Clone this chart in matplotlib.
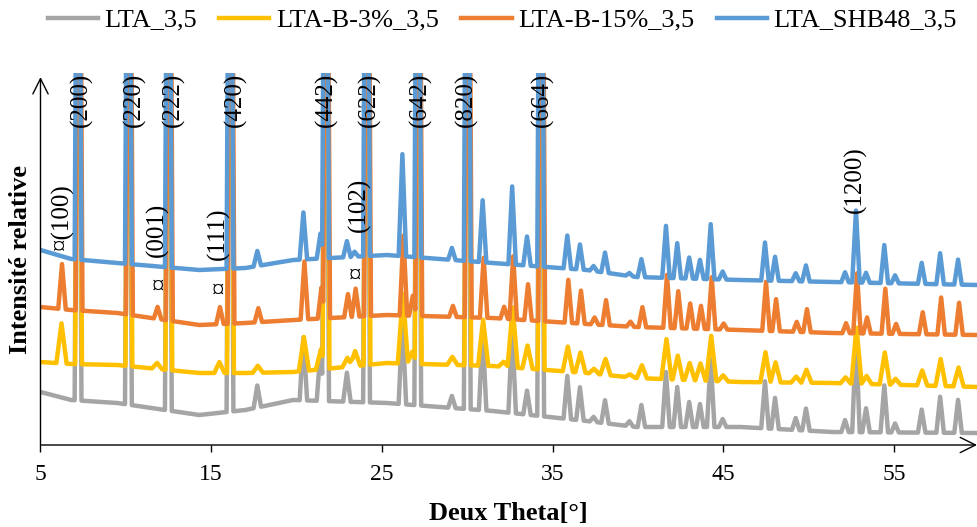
import numpy as np
import matplotlib
matplotlib.use("Agg")
import matplotlib.pyplot as plt

plt.rcParams['font.family'] = ['Liberation Serif', 'DejaVu Serif']

# data (intensity in arbitrary units, series already offset)
series_names = ['LTA_3,5', 'LTA-B-3%_3,5', 'LTA-B-15%_3,5', 'LTA_SHB48_3,5']
colors = ['#A5A5A5', '#FFC000', '#ED7D31', '#5B9BD5']

# baseline anchors
base_x = [5, 6.8, 9.5, 14.3, 17, 19.8, 25.3, 31.5, 37.0, 39.9, 46, 51.4, 59.86]
base_gray = [53, 45, 42, 30, 35, 45, 42, 34, 24, 18, 18, 13, 12]
base_yellow = [83, 81, 80, 72, 72, 73, 82, 79, 72, 67, 63, 62, 58]
base_orange = [138, 135, 132, 120, 122, 125, 130, 127, 121, 118, 115, 112, 110]
base_blue = [195, 186, 182, 175, 177, 185, 190, 182, 175, 168, 165, 163, 160]

# strong LTA reflections (clipped at the top of the chart)
main_peaks = [7.2, 10.15, 12.49, 16.1, 21.7, 24.1, 27.1, 30.0, 34.3]
main_height = 650

# weaker reflections: position, then height for gray, yellow, orange, blue
minor_peaks = [6.2, 11.8, 15.45, 17.7, 20.4, 21.4, 22.95, 23.4, 26.2, 26.75,
               29.1, 30.9, 32.1, 32.63, 33.5, 35.86, 36.6, 37.4, 38.07, 39.5,
               40.2, 41.64, 42.3, 43.0, 43.63, 44.26, 44.96, 47.44, 48.03, 49.24,
               49.84, 52.13, 52.77, 53.36, 54.43, 55.06, 56.62, 57.7, 58.75]
h_gray = [0, 0, 0, 22, 63, 50, 29, 0, 85, 0,
          12, 77, 0, 85, 24, 43, 33, 5, 23, 5,
          22, 55, 40, 25, 23, 68, 8, 47, 31, 12,
          22, 12, 95, 24, 47, 9, 23, 36, 33]
h_yellow = [40, 6, 11, 7, 34, 20, 9, 15, 70, 12,
            8, 46, 5, 60, 23, 25, 20, 5, 16, 3,
            13, 40, 24, 17, 17, 45, 6, 30, 20, 6,
            13, 6, 56, 8, 32, 6, 15, 27, 19]
h_orange = [45, 12, 17, 14, 58, 31, 23, 28, 80, 20,
            11, 60, 12, 63, 36, 43, 33, 7, 25, 5,
            20, 53, 37, 25, 23, 52, 6, 49, 32, 10,
            23, 10, 60, 16, 45, 10, 22, 37, 32]
h_blue = [0, 0, 0, 15, 47, 25, 16, 5, 102, 0,
          12, 62, 0, 78, 29, 33, 25, 5, 20, 3,
          18, 52, 35, 21, 19, 55, 8, 38, 24, 8,
          16, 10, 72, 10, 38, 8, 21, 31, 25]

shifts = [0.0, 0.03, 0.06, 0.0]
widths = [0.22, 0.3, 0.22, 0.22]

main_labels = ['(200)', '(220)', '(222)', '(420)', '(442)', '(622)', '(642)', '(820)', '(664)']
main_label_x = [7.4, 10.5, 12.78, 16.43, 21.75, 24.24, 27.27, 29.97, 34.4]
minor_labels = ['¤(100)', '(001)', '(111)', '(102)', '(1200)']
minor_label_x = [6.26, 11.82, 15.4, 23.7, 52.76]
minor_label_y = [195, 188, 185, 213, 232]
star_x = [11.9, 15.4, 23.4]
star_y = [157, 153, 168]


def pattern(bx, by, heights, shift, w):
    # piecewise-linear pattern: baseline plus triangular peaks
    pos = [p + shift for p in main_peaks] + [p + shift for p in minor_peaks]
    hs = [main_height] * len(main_peaks) + list(heights)
    ws = [0.2] * len(main_peaks) + [w] * len(minor_peaks)
    xs = set(bx)
    for p, h, ww in zip(pos, hs, ws):
        if h > 0:
            xs.update([p - ww, p, p + ww])
    xs = np.array(sorted(x for x in xs if 5 <= x <= 59.86))
    ys = np.interp(xs, bx, by)
    for p, h, ww in zip(pos, hs, ws):
        if h > 0:
            ys = ys + h * np.clip(1 - np.abs(xs - p) / ww, 0, None)
    return xs, ys


fig = plt.figure(figsize=(9.77, 5.27), dpi=100)
ax = fig.add_axes([40.5 / 977, 82 / 527, 936.5 / 977, 372 / 527])

bases = [base_gray, base_yellow, base_orange, base_blue]
heights = [h_gray, h_yellow, h_orange, h_blue]
for name, col, b, h, s, w in zip(series_names, colors, bases, heights, shifts, widths):
    x, y = pattern(base_x, b, h, s, w)
    ax.plot(x, y, color=col, lw=3.2, label=name, solid_joinstyle='round')

ax.set_xlim(5, 59.86)
ax.set_ylim(0, 372)
ax.set_xticks([5, 15, 25, 35, 45, 55])
ax.set_yticks([])
ax.tick_params(axis='x', direction='out', length=5, width=1, labelsize=17, pad=9)
for sp in ax.spines.values():
    sp.set_visible(False)

# axis arrows
arrow = dict(arrowstyle='->,head_length=1.1,head_width=0.55', lw=1, color='black',
             mutation_scale=10, shrinkA=0, shrinkB=0)
ax.annotate('', xy=(1, 0), xytext=(0, 0), xycoords='axes fraction', arrowprops=arrow)
ax.annotate('', xy=(0, 0.989), xytext=(0, 0), xycoords='axes fraction', arrowprops=arrow)

# reflection labels
for lab, x in zip(main_labels, main_label_x):
    ax.text(x, 372, lab, rotation=90, ha='center', va='top', fontsize=18, zorder=5)
for lab, x, y in zip(minor_labels, minor_label_x, minor_label_y):
    ax.text(x, y, lab, rotation=90, ha='center', va='bottom', fontsize=18, zorder=5)
for x, y in zip(star_x, star_y):
    ax.text(x, y, '¤', ha='center', va='center', fontsize=18, zorder=5)

ax.set_xlabel('Deux Theta[°]', fontsize=19, fontweight='bold', labelpad=12)
ax.set_ylabel('Intensité relative', fontsize=19, fontweight='bold', labelpad=6)

fig.legend(loc='center', bbox_to_anchor=(0.514, 0.962), ncol=4, frameon=False,
           fontsize=19, handlelength=1.9, handletextpad=0.25, columnspacing=0.85,
           borderaxespad=0)

fig.savefig('out.png', dpi=100)
